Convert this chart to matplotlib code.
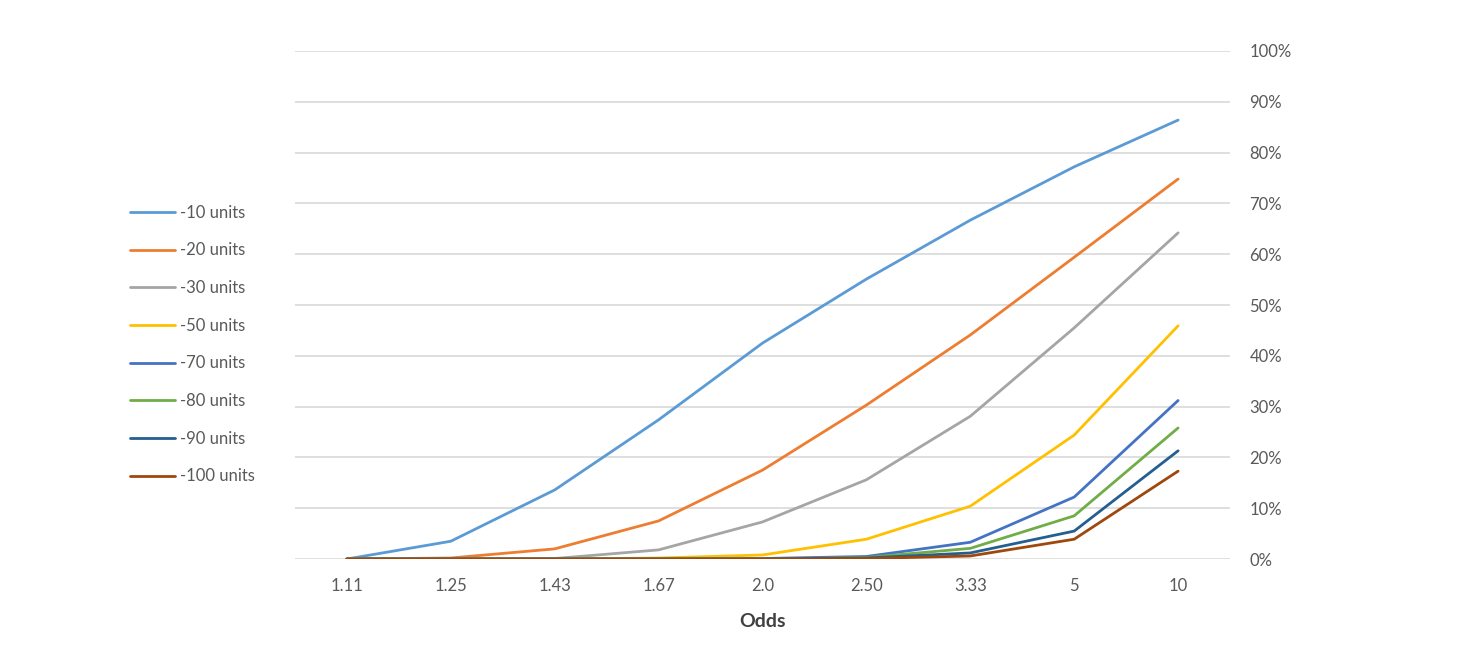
import numpy as np
import matplotlib
matplotlib.use('Agg')
import matplotlib.pyplot as plt
from matplotlib.ticker import FuncFormatter

plt.rcParams['font.family'] = ['Lato', 'DejaVu Sans']

odds = ['1.11', '1.25', '1.43', '1.67', '2.0', '2.50', '3.33', '5', '10']

# share of runs reaching each drawdown, in percent
loss_10 = [0, 3.5, 13.6, 27.4, 42.5, 55.1, 66.7, 77.2, 86.4]
loss_20 = [0, 0.2, 2.0, 7.5, 17.5, 30.3, 44.1, 59.4, 74.8]
loss_30 = [0, 0, 0.1, 1.8, 7.3, 15.6, 28.1, 45.5, 64.2]
loss_50 = [0, 0, 0, 0.2, 0.8, 3.9, 10.4, 24.4, 45.9]
loss_70 = [0, 0, 0, 0, 0.1, 0.5, 3.3, 12.2, 31.2]
loss_80 = [0, 0, 0, 0, 0, 0.3, 2.1, 8.5, 25.8]
loss_90 = [0, 0, 0, 0, 0, 0.2, 1.2, 5.5, 21.3]
loss_100 = [0, 0, 0, 0, 0, 0.1, 0.6, 3.9, 17.3]

labels = ['-10 units', '-20 units', '-30 units', '-50 units',
          '-70 units', '-80 units', '-90 units', '-100 units']
series = [loss_10, loss_20, loss_30, loss_50, loss_70, loss_80, loss_90, loss_100]
colors = ['#5B9BD5', '#ED7D31', '#A5A5A5', '#FFC000',
          '#4472C4', '#70AD47', '#255E91', '#9E480E']

fig = plt.figure(figsize=(14.6, 6.52), dpi=100)
ax = fig.add_axes([0.202, 0.1426, 0.6405, 0.7792])

x = np.arange(len(odds))
for vals, lab, c in zip(series, labels, colors):
    ax.plot(x, vals, color=c, linewidth=2.0, label=lab, solid_capstyle='round')

ax.set_xlim(-0.5, len(odds) - 0.5)
ax.set_ylim(0, 100)
ax.set_yticks(np.arange(0, 101, 10))
ax.yaxis.set_major_formatter(FuncFormatter(lambda v, p: '%d%%' % v))
ax.yaxis.tick_right()
ax.set_xticks(x)
ax.set_xticklabels(odds)
ax.grid(axis='y', color='#D9D9D9', linewidth=1.2)
ax.set_axisbelow(True)
for s in ax.spines.values():
    s.set_visible(False)
ax.tick_params(axis='both', length=0, labelsize=12, labelcolor='#595959')
ax.tick_params(axis='x', pad=14)
ax.tick_params(axis='y', pad=14)
for t in ax.get_yticklabels():
    t.set_horizontalalignment('left')
ax.set_xlabel('Odds', fontsize=14, color='#404040', fontweight='bold', labelpad=13)

fig.legend(loc='center left', bbox_to_anchor=(130 / 1460, 0.4716), frameon=False,
           fontsize=12, labelcolor='#595959', handlelength=2.7, handletextpad=0.3,
           labelspacing=1.3, borderpad=0, borderaxespad=0)

fig.savefig('out.png', dpi=100)
